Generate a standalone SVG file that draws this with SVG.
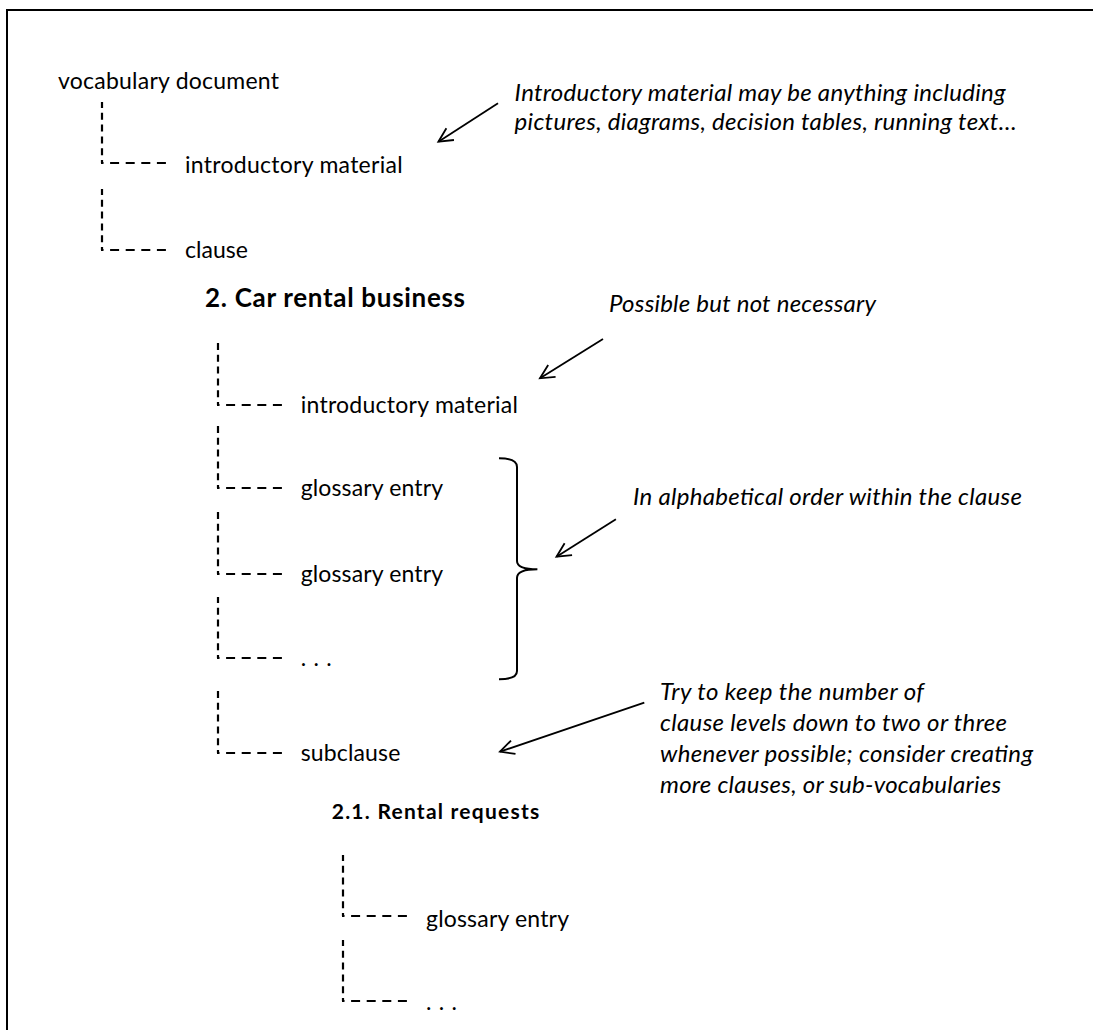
<svg xmlns="http://www.w3.org/2000/svg" width="1093" height="1030" viewBox="0 0 1093 1030">
  <defs>
    <style>
      .t { font-family: Lato, "Open Sans", "Liberation Sans", sans-serif; font-size: 23px; fill: #000; }
      .note { font-style: italic; font-size: 24px; }
      .h1 { font-weight: bold; font-size: 26px; }
      .h2 { font-weight: bold; font-size: 21px; }
      /* vertical runs start with a short hook at the corner, then five dashes */
      .vdash { fill: none; stroke: #000; stroke-width: 2.2; stroke-dasharray: 7 4.8; stroke-dashoffset: 4; }
      /* horizontal runs: short hook, then four longer dashes */
      .hdash { fill: none; stroke: #000; stroke-width: 2.2; stroke-dasharray: 9 6.6; stroke-dashoffset: 6.5; }
      .arrow { fill: none; stroke: #000; stroke-width: 1.8; marker-end: url(#head); }
      .brace { fill: none; stroke: #000; stroke-width: 2; }
    </style>
    <marker id="head" markerUnits="userSpaceOnUse" markerWidth="24" markerHeight="24" viewBox="-18 -12 24 24" refX="0" refY="0" orient="auto">
      <path d="M-14,-7 L0,0 L-14,7" fill="none" stroke="#000" stroke-width="1.8"/>
    </marker>
  </defs>

  <rect width="1093" height="1030" fill="#fff"/>
  <!-- page frame (left and top edges) -->
  <path d="M7,1030 V10 H1093" fill="none" stroke="#000" stroke-width="2"/>

  <!-- tree connectors and annotation arrows -->
  <g id="connectors">
    <path class="vdash" d="M102,163 V102"/>
    <path class="hdash" d="M101,163 H167"/>
    <path class="vdash" d="M102,250 V189"/>
    <path class="hdash" d="M101,250 H167"/>

    <path class="vdash" d="M218,405 V343"/>
    <path class="hdash" d="M217,405 H283"/>
    <path class="vdash" d="M218,488 V426"/>
    <path class="hdash" d="M217,488 H283"/>
    <path class="vdash" d="M218,574 V512"/>
    <path class="hdash" d="M217,574 H283"/>
    <path class="vdash" d="M218,658 V597"/>
    <path class="hdash" d="M217,658 H283"/>
    <path class="vdash" d="M218,753 V691"/>
    <path class="hdash" d="M217,753 H283"/>

    <path class="vdash" d="M343,916 V855"/>
    <path class="hdash" d="M342,916 H408"/>
    <path class="vdash" d="M343,1001 V940"/>
    <path class="hdash" d="M342,1001 H408"/>

    <path class="arrow" d="M498,103.3 L438.4,141.7"/>
    <path class="arrow" d="M603,339 L540,378.3"/>
    <path class="arrow" d="M615.9,519.3 L556.5,556.7"/>
    <path class="arrow" d="M644.3,702.7 L500,751.7"/>
    <path class="brace" d="M499,458.3 Q517,458.3 517,467 V561 Q517,569.3 537.4,569.3 Q517,569.3 517,578 V671 Q517,679.3 499,679.3"/>
  </g>

  <g id="vocabulary-document"><text class="t" x="58" y="89" textLength="221">vocabulary document</text></g>
  <g id="intro-material-1"><text class="t" x="185" y="173" textLength="217.6">introductory material</text></g>
  <g id="clause"><text class="t" x="185" y="258" textLength="63">clause</text></g>
  <g id="clause-title"><text class="t h1" x="205" y="307" textLength="260">2. Car rental business</text></g>
  <g id="intro-material-2"><text class="t" x="300.7" y="413" textLength="217.3">introductory material</text></g>
  <g id="glossary-entry-1"><text class="t" x="300.7" y="496" textLength="142.3">glossary entry</text></g>
  <g id="glossary-entry-2"><text class="t" x="300.7" y="581.7" textLength="142.3">glossary entry</text></g>
  <g id="more-entries-1"><text class="t" x="300.7" y="666" textLength="31">. . .</text></g>
  <g id="subclause"><text class="t" x="300.7" y="761" textLength="99.6">subclause</text></g>
  <g id="subclause-title"><text class="t h2" x="331.7" y="819" textLength="207.6">2.1. Rental requests</text></g>
  <g id="glossary-entry-3"><text class="t" x="426" y="926.7" textLength="143">glossary entry</text></g>
  <g id="more-entries-2"><text class="t" x="426" y="1010" textLength="31">. . .</text></g>

  <g id="note-intro">
    <text class="t note" x="514.6" y="101" textLength="491">Introductory material may be anything including</text>
    <text class="t note" x="514.6" y="130" textLength="502">pictures, diagrams, decision tables, running text…</text>
  </g>
  <g id="note-optional"><text class="t note" x="609" y="312" textLength="267">Possible but not necessary</text></g>
  <g id="note-order"><text class="t note" x="633" y="505" textLength="389">In alphabetical order within the clause</text></g>
  <g id="note-levels">
    <text class="t note" x="660" y="700" textLength="264">Try to keep the number of</text>
    <text class="t note" x="660" y="731" textLength="347">clause levels down to two or three</text>
    <text class="t note" x="660" y="762" textLength="373">whenever possible; consider creating</text>
    <text class="t note" x="660" y="793" textLength="341">more clauses, or sub-vocabularies</text>
  </g>
</svg>
